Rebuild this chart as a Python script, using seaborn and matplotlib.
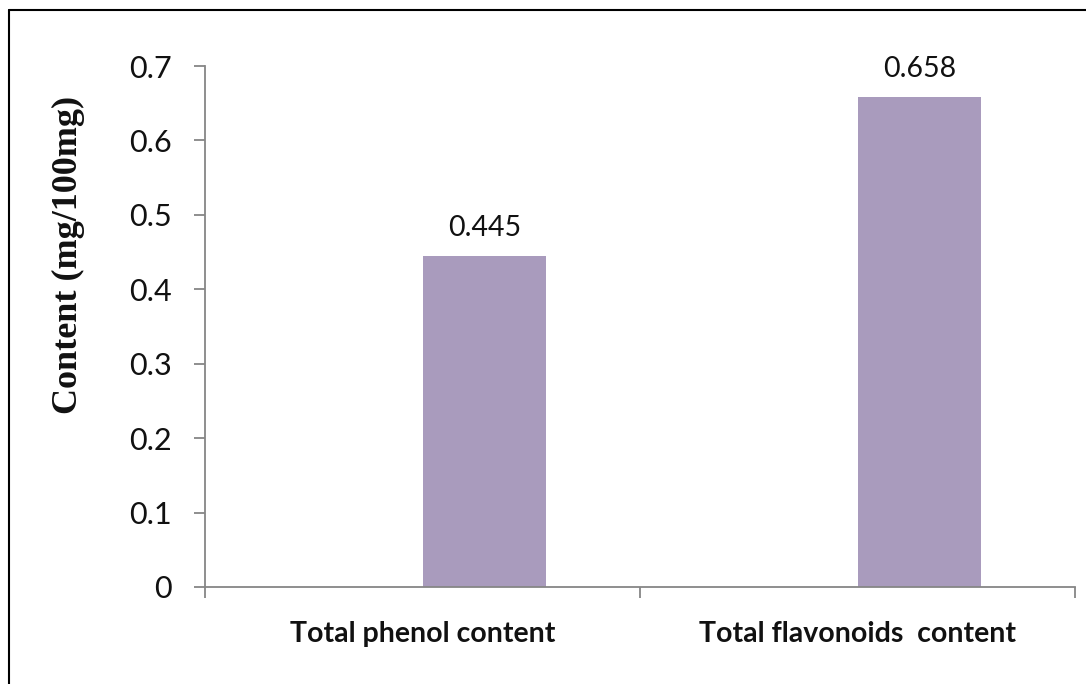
import seaborn as sns
import matplotlib.pyplot as plt
import pandas as pd
from matplotlib.lines import Line2D

categories = ["Total phenol content", "Total flavonoids  content"]
values = [0.445, 0.658]
labels = ["0.445", "0.658"]
yticks = [0, 0.1, 0.2, 0.3, 0.4, 0.5, 0.6, 0.7]
ytick_labels = ["0", "0.1", "0.2", "0.3", "0.4", "0.5", "0.6", "0.7"]

df = pd.DataFrame({"category": categories, "value": values, "series": "content"})

sns.set_style("white")
plt.rcParams["font.family"] = ["Lato", "DejaVu Sans"]

fig = plt.figure(figsize=(10.86, 6.84), dpi=100)
ax = fig.add_axes([205/1086, 1-587/684, 870/1086, 521/684])

# Excel-style layout: empty first series, so bar sits right of the category centre
sns.barplot(data=df, x="category", y="value", hue="series",
            hue_order=["blank", "content"], palette={"blank": "white", "content": "#a99bbd"},
            width=0.57, dodge=True, legend=False, saturation=1, linewidth=0, ax=ax)

for c in ax.containers:
    if all(p is not None for p in c.patches) and len(c.patches) == len(labels):
        ax.bar_label(c, labels=labels, padding=11, fontsize=20.5, color="#111111")

ax.set_xlim(-0.5, 1.5)
ax.set_ylim(0, 0.7)
ax.set_yticks(yticks)
ax.set_yticklabels(ytick_labels, fontsize=22, color="#111111")
ax.set_xticks([0, 1])
ax.set_xticklabels(categories, fontsize=20.5, fontweight="bold", color="#111111")
ax.set_xticks([-0.5, 0.5, 1.5], minor=True)
ax.tick_params(axis="x", which="major", bottom=False, pad=21)
ax.tick_params(axis="x", which="minor", bottom=True, length=8, width=1.3, color="#868686", direction="out")
ax.tick_params(axis="y", left=True, length=8, width=1.3, color="#868686", direction="out", pad=16)
ax.set_xlabel("")
ax.set_ylabel("")

for s in ["top", "right"]:
    ax.spines[s].set_visible(False)
for s in ["left", "bottom"]:
    ax.spines[s].set_color("#868686")
    ax.spines[s].set_linewidth(1.3)

fig.text(68/1086, 1-255/684, "Content (mg/100mg)", rotation=90, ha="center", va="center",
         fontsize=26, fontweight="bold", family="Liberation Serif", color="#111111")

# outer frame (top and left only)
fig.add_artist(Line2D([9/1086, 1], [1-10/684, 1-10/684], color="black", lw=1.5, transform=fig.transFigure))
fig.add_artist(Line2D([9/1086, 9/1086], [0, 1-10/684], color="black", lw=1.5, transform=fig.transFigure))

fig.savefig("out.png", dpi=100, facecolor="white")
